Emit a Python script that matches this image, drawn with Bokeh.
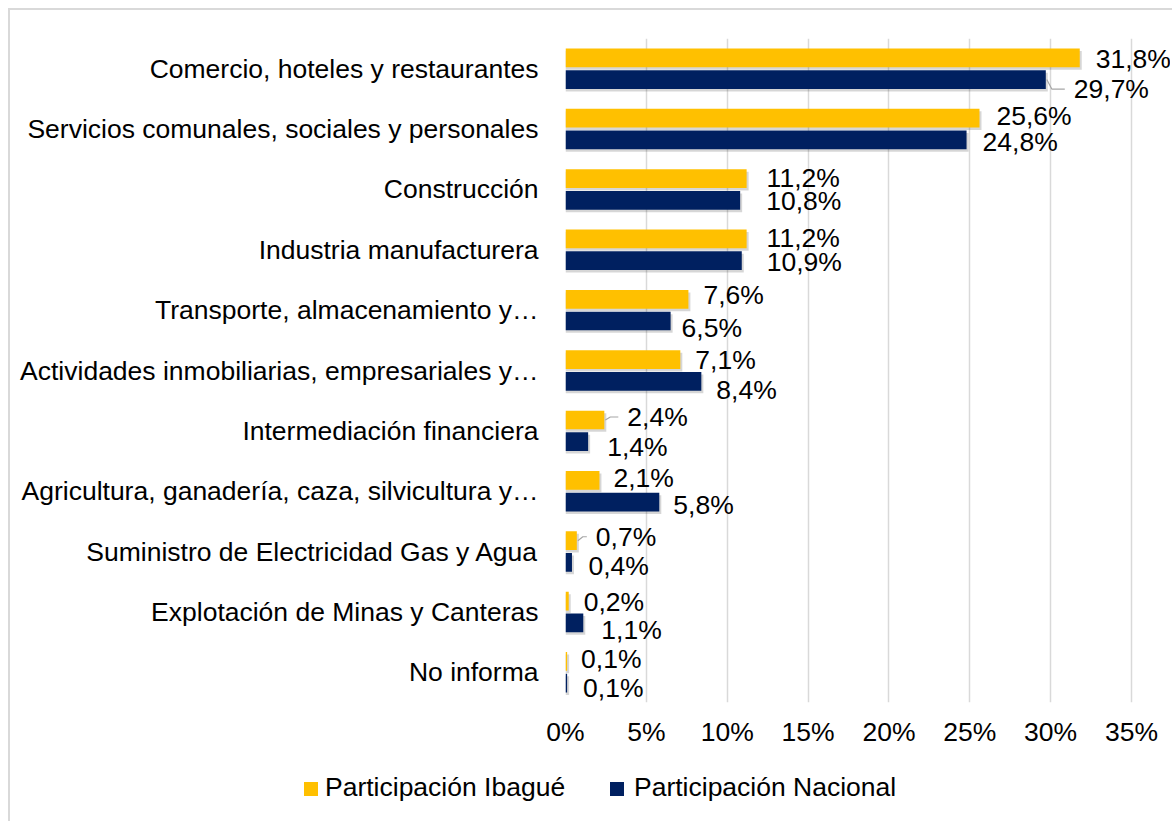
from bokeh.plotting import figure
from bokeh.layouts import column
from bokeh.models import FactorRange, Range1d, FixedTicker, ColumnDataSource, Div
from bokeh.core.properties import value
from bokeh.embed import file_html
from bokeh.resources import INLINE

# ---------------- data ----------------
categories = [
    "Comercio, hoteles y restaurantes",
    "Servicios comunales, sociales y personales",
    "Construcción",
    "Industria manufacturera",
    "Transporte, almacenamiento y…",
    "Actividades inmobiliarias, empresariales y…",
    "Intermediación financiera",
    "Agricultura, ganadería, caza, silvicultura y…",
    "Suministro de Electricidad Gas y Agua",
    "Explotación de Minas y Canteras",
    "No informa",
]
ibague = [31.8, 25.6, 11.2, 11.2, 7.6, 7.1, 2.4, 2.1, 0.7, 0.2, 0.1]
nacional = [29.7, 24.8, 10.8, 10.9, 6.5, 8.4, 1.4, 5.8, 0.4, 1.1, 0.1]
series_names = ["Participación Ibagué", "Participación Nacional"]
x_ticks = [0, 5, 10, 15, 20, 25, 30, 35]
x_tick_labels = ["0%", "5%", "10%", "15%", "20%", "25%", "30%", "35%"]

# ---------------- layout / style ----------------
W, H, HL = 1160, 760, 49
FL, FR35, FT, FB = 555, 1121, 28, 692
PX = (FR35 - FL) / 35.0
X_END = (W - FL) / PX
n = len(categories)
ROW = (FB - FT) / n
OFF, BAR_H = 0.18, 0.31
GOLD, NAVY, GRID, LEAD = "#FFC000", "#002060", "#D9D9D9", "#A6A6A6"
FONT = "Liberation Sans"
FS = "26.5px"

# label nudges in pixels (dx from bar end, dy downward from bar centre)
gold_dx = [16, 17, 20, 20, 15, 15, 23, 14, 19, 15, 14]
gold_dy = [1.5, -2, -1, -1, -4, 0, -3, -2, -4, 1, -2.5]
navy_dx = [28, 16, 26, 25, 11, 15, 19, 14, 16.5, 18, 16]
navy_dy = [9.5, 2, 1, 1, 7, 8.5, 5, 3, 4, 7, 4.5]
leaders = [("g", 6), ("g", 8), ("n", 0)]

yc = [n - 0.5 - i for i in range(n)]
y_g = [c + OFF for c in yc]
y_n = [c - OFF for c in yc]

def fmt(v):
    return f"{v:.1f}".replace(".", ",") + "%"

p = figure(width=W, height=H, y_range=FactorRange(*categories[::-1], range_padding=0),
           x_range=Range1d(0, X_END), output_backend="svg", toolbar_location=None,
           min_border_left=FL, min_border_right=0, min_border_top=FT,
           min_border_bottom=H - FB)
p.outline_line_color = None
p.background_fill_color = "white"
p.border_fill_color = "white"

# grid
p.ygrid.grid_line_color = None
p.xgrid.ticker = FixedTicker(ticks=x_ticks)
p.xgrid.grid_line_color = GRID
p.xgrid.grid_line_width = 1.5

# x axis
xa = p.xaxis[0]
xa.ticker = FixedTicker(ticks=x_ticks)
xa.major_label_overrides = {t: l for t, l in zip(x_ticks, x_tick_labels)}
xa.axis_line_color = None
xa.major_tick_line_color = None
xa.minor_tick_line_color = None
xa.major_label_standoff = 8
xa.major_label_text_font = FONT
xa.major_label_text_font_size = FS
xa.major_label_text_color = "black"

# y axis
ya = p.yaxis[0]
ya.axis_line_color = None
ya.major_tick_line_color = None
ya.minor_tick_line_color = None
ya.major_label_standoff = 21
ya.major_label_text_font = FONT
ya.major_label_text_font_size = FS
ya.major_label_text_color = "black"

# shadows
sx = 2.0 / PX
sy = 2.5 / ROW
p.hbar(y=[c - sy for c in y_g], left=0, right=[v + sx for v in ibague], height=BAR_H,
       fill_color="black", fill_alpha=0.16, line_color=None)
p.hbar(y=[c - sy for c in y_n], left=0, right=[v + sx for v in nacional], height=BAR_H,
       fill_color="black", fill_alpha=0.16, line_color=None)

# bars
rg = p.hbar(y=y_g, left=0, right=ibague, height=BAR_H, fill_color=GOLD, line_color=None)
rn = p.hbar(y=y_n, left=0, right=nacional, height=BAR_H, fill_color=NAVY, line_color=None)

# data labels
def lab_pos(vals, ys, dxs, dys):
    xs = [v + dx / PX for v, dx in zip(vals, dxs)]
    yy = [y - dy / ROW for y, dy in zip(ys, dys)]
    return xs, yy

gx, gy = lab_pos(ibague, y_g, gold_dx, gold_dy)
nx, ny = lab_pos(nacional, y_n, navy_dx, navy_dy)
src = ColumnDataSource(dict(x=gx + nx, y=gy + ny,
                            t=[fmt(v) for v in ibague] + [fmt(v) for v in nacional]))
p.text(x="x", y="y", text="t", source=src, text_align="left", text_baseline="middle",
       text_font=value(FONT), text_font_size=value(FS), text_color="black")

# leader lines
lxs, lys = [], []
for s, i in leaders:
    if s == "g":
        v, yb, lx, ly = ibague[i], y_g[i], gx[i], gy[i]
    else:
        v, yb, lx, ly = nacional[i], y_n[i], nx[i], ny[i]
    lxs.append([v + 1 / PX, v + 6 / PX, lx - 9 / PX])
    lys.append([yb, ly, ly])
p.multi_line(xs=lxs, ys=lys, line_color=LEAD, line_width=1.2)

# legend strip (HTML, so it is not clipped by the plot frame)
def sw(color, left):
    return (f'<span style="position:absolute;left:{left}px;top:7px;width:14px;height:14px;'
            f'background:{color};"></span>')

def tx(label, left):
    return (f'<span style="position:absolute;left:{left}px;top:-3px;line-height:30px;'
            f'white-space:nowrap;">{label}</span>')

legend_html = (
    f'<div style="position:relative;width:{W}px;height:{HL}px;font-family:\'{FONT}\';'
    f'font-size:{FS};color:black;">'
    + sw(GOLD, 289) + tx(series_names[0], 310)
    + sw(NAVY, 595) + tx(series_names[1], 619)
    + '</div>'
)
lf = Div(text=legend_html, width=W, height=HL)

layout = column(p, lf, spacing=0,
                styles={"margin-left": "8px", "margin-top": "8px",
                        "border-left": "2px solid #D9D9D9",
                        "border-top": "2px solid #D9D9D9"})

open("out.html", "w").write(file_html(layout, INLINE))
